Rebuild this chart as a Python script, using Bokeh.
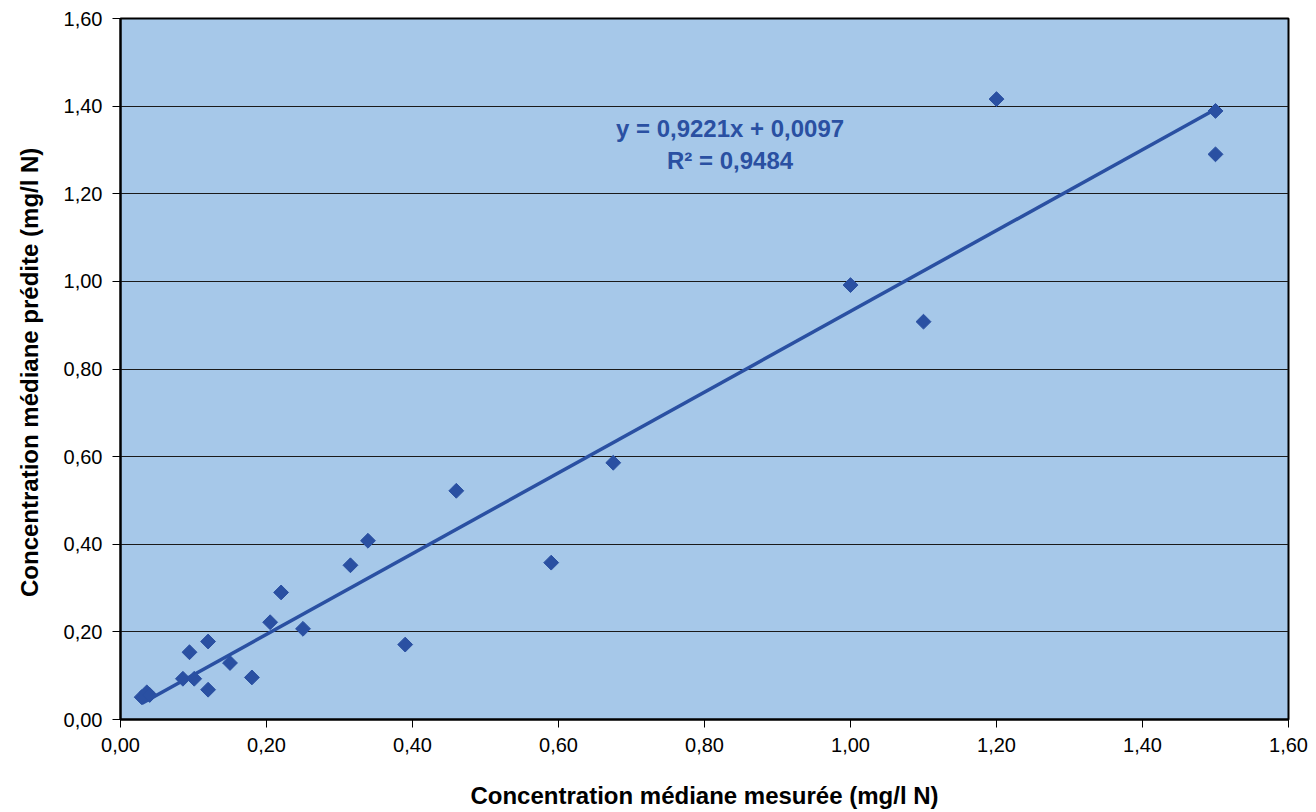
import math
from bokeh.plotting import figure
from bokeh.models import CustomJSTickFormatter, FixedTicker, Range1d, Label
from bokeh.embed import file_html
from bokeh.resources import INLINE

measured = [0.029, 0.036, 0.040, 0.0855, 0.101, 0.0945, 0.120, 0.120, 0.150, 0.180,
            0.205, 0.220, 0.250, 0.315, 0.339, 0.390, 0.460, 0.590, 0.675,
            1.000, 1.100, 1.200, 1.500, 1.500]
predicted = [0.051, 0.062, 0.056, 0.093, 0.093, 0.1535, 0.178, 0.068, 0.129, 0.096,
             0.222, 0.290, 0.207, 0.352, 0.408, 0.171, 0.522, 0.358, 0.586,
             0.9915, 0.908, 1.416, 1.389, 1.290]
slope = 0.9221
intercept = 0.0097
r2 = 0.9484
ticks = [0.0, 0.2, 0.4, 0.6, 0.8, 1.0, 1.2, 1.4, 1.6]

BLUE = "#2A50A2"

p = figure(width=1316, height=812, output_backend="svg", toolbar_location=None,
           x_range=Range1d(0, 1.6), y_range=Range1d(0, 1.6),
           min_border_left=120, min_border_right=28, min_border_top=18, min_border_bottom=93)
p.border_fill_color = "white"
p.background_fill_color = "#A6C8E9"
p.outline_line_color = "black"
p.outline_line_width = 2

fmt = CustomJSTickFormatter(code="return tick.toFixed(2).replace('.', ',');")
for ax in (p.xaxis[0], p.yaxis[0]):
    ax.ticker = FixedTicker(ticks=ticks)
    ax.formatter = fmt
    ax.major_label_text_font = "Liberation Sans"
    ax.major_label_text_font_size = "20px"
    ax.major_label_text_color = "black"
    ax.axis_label_text_font = "Liberation Sans"
    ax.axis_label_text_font_size = "24px"
    ax.axis_label_text_font_style = "bold"
    ax.axis_label_text_color = "black"
    ax.axis_line_color = "black"
    ax.axis_line_width = 2
    ax.major_tick_line_color = "black"
    ax.major_tick_in = 0
    ax.major_tick_out = 8
    ax.minor_tick_line_color = None

p.xaxis[0].axis_label = "Concentration médiane mesurée (mg/l N)"
p.yaxis[0].axis_label = "Concentration  médiane prédite (mg/l N)"
p.xaxis[0].major_label_standoff = 10
p.xaxis[0].axis_label_standoff = 27
p.yaxis[0].major_label_standoff = 10
p.yaxis[0].axis_label_standoff = 18

p.xgrid.grid_line_color = None
p.ygrid.ticker = FixedTicker(ticks=ticks)
p.ygrid.grid_line_color = "#1a1a1a"
p.ygrid.grid_line_width = 1

xs = [min(measured), max(measured)]
ys = [slope * v + intercept for v in xs]
p.line(xs, ys, line_color=BLUE, line_width=3.5)
p.scatter(measured, predicted, marker="square", angle=math.pi / 4, size=10.5,
          fill_color=BLUE, line_color=BLUE, line_width=1)

fs = lambda v: f"{v:.4f}".replace(".", ",")
p.add_layout(Label(x=0.835, y=1.350, text=f"y = {fs(slope)}x + {fs(intercept)}",
                   text_align="center", text_baseline="middle", text_font="Liberation Sans",
                   text_font_size="24px", text_font_style="bold", text_color=BLUE))
p.add_layout(Label(x=0.835, y=1.275, text=f"R² = {fs(r2)}",
                   text_align="center", text_baseline="middle", text_font="Liberation Sans",
                   text_font_size="24px", text_font_style="bold", text_color=BLUE))

open("out.html", "w").write(file_html(p, INLINE))
